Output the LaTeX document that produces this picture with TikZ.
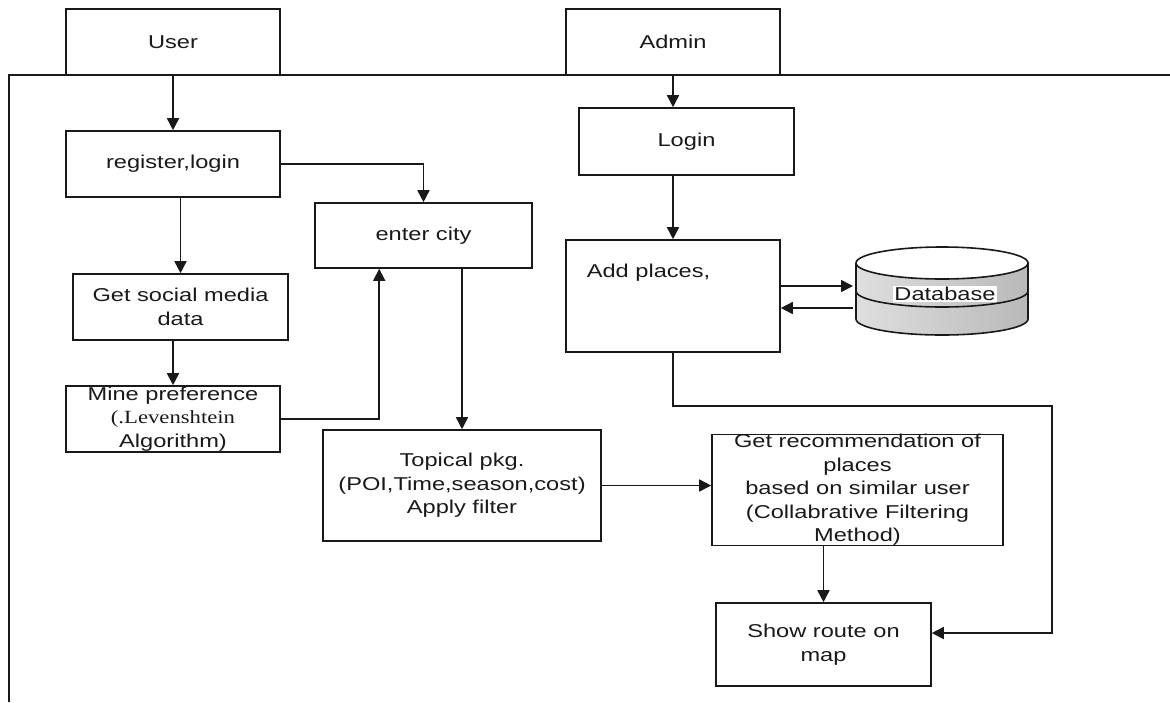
\documentclass[tikz,border=0pt]{standalone}
\usepackage{fontspec}
\setmainfont{Liberation Sans}[FakeStretch=1.27]
\newfontfamily\serfont{Liberation Serif}[FakeStretch=1.22]
\usetikzlibrary{arrows.meta}
\usetikzlibrary{calc}

\begin{document}
\begin{tikzpicture}[x=1pt, y=-1pt, line width=1.6pt, color=black!90,
    every node/.append style={inner sep=0pt, align=center, font=\fontsize{18.6}{23.5}\selectfont},
    box/.style={draw, minimum width=214pt, minimum height=66pt},
    arr/.style={-{Triangle[length=12pt, width=12pt]}}]
    \useasboundingbox (0,0) rectangle (1170,702);
    \draw (9,702) -- (9,75) -- (1170,75);
    \node[box] (user) at (173,42) {User};
    \node[box] (admin) at (673,42) {Admin};
    \node[box] (reg) at (173,164) {register,login};
    \node[box, minimum width=217pt, minimum height=65pt] (city) at (423.5,235.5) {enter city};
    \node[box, minimum width=215pt] (social) at (180.5,307) {Get social media\\data};
    \node[box] (mine) at (173,419) {Mine preference\\{\serfont(.Levenshtein}\hspace*{30pt}\\Algorithm)};
    \node[box, minimum width=278pt, minimum height=111pt] (topic) at (462,485.5) {Topical pkg.\\(POI,Time,season,cost)\\Apply filter};
    \node[box, minimum width=291pt, minimum height=110pt] (rec) at (857.5,490) {Get recommendation of\\places\\based on similar user\\(Collabrative Filtering\\Method)};
    \node[box, minimum width=215pt, minimum height=83pt] (show) at (823.5,644.5) {Show route on\\map};
    \node[box, minimum width=215pt, minimum height=67pt] (login) at (686.5,141.5) {Login};
    \node[box, minimum height=112pt] (add) at (673,296) {};
    \node[anchor=west] (addtxt) at (586,273) {Add places,};
    % database drum
    \fill[left color=gray!25, middle color=white, right color=gray!55] (856,263) -- (856,319) arc[start angle=180, end angle=360, x radius=86pt, y radius=16pt] -- (1028,263) -- cycle;
    \draw (856,263) -- (856,319) arc[start angle=180, end angle=360, x radius=86pt, y radius=16pt] -- (1028,263);
    \draw (856,291) arc[start angle=180, end angle=360, x radius=86pt, y radius=16pt];
    \draw[fill=white] (942,263) ellipse[x radius=86pt, y radius=16pt];
    \node[fill=white, inner sep=1pt] (db) at (945,294) {Database};
    \coordinate (dbL) at (853,297);
    \coordinate (bend) at (1052,406);
    % user side
    \draw[arr] (user) -- (reg);
    \draw[arr] (reg.east) -| (city.north);
    \draw[arr] (reg.south -| social.north) -- (social.north);
    \draw[arr] (social.south -| mine.north) -- (mine.north);
    \draw[arr] (mine.east) -| ([xshift=65pt]city.south west);
    \draw[arr] (city.south -| topic.north) -- (topic.north);
    \draw[arr] (topic.east) -- (topic.east -| rec.west);
    \draw[arr] (rec.south -| show.north) -- (show.north);
    % admin side
    \draw[arr] (admin.south) -- (admin.south |- login.north);
    \draw[arr] (login.south -| add.north) -- (add.north);
    \draw[arr] ([yshift=10pt]add.east) -- ([yshift=10pt]add.east -| dbL);
    \draw[arr] ([yshift=-12pt]add.east -| dbL) -- ([yshift=-12pt]add.east);
    \draw[arr] (add.south) |- (bend) |- ([yshift=11.5pt]show.east);
\end{tikzpicture}
\end{document}
